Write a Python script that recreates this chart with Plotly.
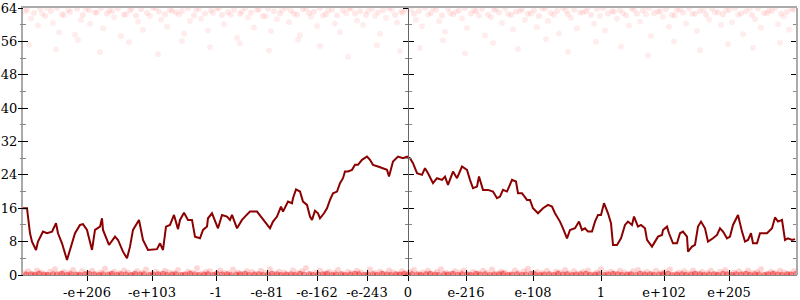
import plotly.graph_objects as go

# ---- data ----
tick_pos = [-321, -256, -192, -141, -91, -41, 0, 58, 125, 193, 256, 321]
tick_text = ["-e+206", "-e+103", "-1", "-e-81", "-e-162", "-e-243", "0",
             "e-216", "e-108", "1", "e+102", "e+205"]

line_x = [-385,-381,-378,-376,-372,-370,-365,-361,-356,-352,
          -350,-346,-341,-338,-333,-328,-325,-321,-316,-313,
          -308,-306,-305,-299,-293,-290,-285,-281,-278,-275,
          -271,-269,-265,-260,-251,-248,-245,-242,-238,-234,
          -230,-228,-224,-220,-216,-213,-208,-205,-201,-200,
          -196,-193,-190,-186,-181,-178,-176,-171,-166,-163,
          -158,-151,-146,-141,-138,-135,-131,-127,-125,-120,
          -116,-115,-112,-108,-105,-101,-98,-96,-93,-90,
          -88,-84,-81,-78,-75,-71,-68,-65,-63,-60,
          -56,-53,-50,-46,-41,-38,-35,-30,-25,-21,
          -19,-15,-10,-5,-1,2,5,9,14,17,
          20,25,29,34,37,40,45,49,54,59,
          62,65,69,71,75,80,85,89,92,95,
          99,104,108,110,114,119,122,125,130,135,
          140,144,147,152,155,159,162,167,171,174,
          177,180,184,187,190,193,196,200,203,205,
          209,213,217,220,224,226,230,233,237,239,
          244,247,250,254,255,259,261,265,269,272,
          275,279,280,284,287,290,293,297,300,305,
          309,312,315,319,322,325,330,334,337,340,
          343,345,349,352,359,364,367,370,374,377,
          380,384,387]
line_y = [16,16,10,8,6,8,10.4,10,10.4,12.4,
          10,7.6,3.6,6,10,12,12.2,10.8,6,10.8,
          11.6,13.6,10.8,7.2,9.2,8.4,5.6,4,6.8,10.8,
          12.4,13.2,8.4,6,6.2,7.6,6,11.6,12,14.4,
          11,13.2,14.9,13.2,13.2,9.2,8.8,10.8,11.6,13.6,
          14.8,13.2,11.2,14.4,14,13.2,14.4,11.2,13.2,14,
          15.2,15.2,13.6,12,11.2,12.8,14,16.4,15.2,17.6,
          17.2,18.4,20.5,20,17.6,16.8,14,13.2,15.4,14.8,
          13.6,14.8,16,18,19.6,20,22,23.2,24.8,24.8,
          25.2,26.4,26.4,27.6,28.4,27.6,26.4,26,25.6,25.2,
          23.6,27.2,28.4,28,28.4,28,26.8,24.4,24,25.6,
          24.4,22,23.2,22.8,23.6,21.6,24.8,23.2,26,25.2,
          22.8,20.8,21.2,23.6,20.4,20.4,20,18.4,18.8,20.4,
          20,22.8,22.4,19.6,19.6,18,18,16,14.8,16,
          16.8,16.4,14.8,12.8,11.2,8.8,10.8,11.2,12.8,10.8,
          11.2,10.4,10.4,12.8,14.4,14.4,17.2,14.8,12.4,7.2,
          7.2,8.8,12,12.8,12,14,11.6,12,11.2,8.4,
          6.8,8,9.2,9.6,10.8,11.6,10,7.6,7.6,10,
          10.4,9.2,5.6,6.8,7.2,11.6,12.8,11.2,8,8.8,
          9.6,11.2,10.4,8.8,9.2,12,14.4,10.4,8,8.4,
          10,7.6,7.6,10,10,11.2,13.8,12.8,13.2,8.4,
          8.8,8.4,8.6]

top_x = [-383,-377,-370,-366,-361,-355,-349,-344,-340,-333,-327,-322,-318,-311,-305,
         -299,-294,-287,-282,-276,-270,-265,-258,-252,-247,-241,-236,-229,-224,-218,
         -212,-207,-200,-195,-189,-184,-177,-171,-166,-160,-154,-149,-142,-137,-131,
         -126,-119,-114,-108,-102,-97,-91,-85,-80,-73,-68,-62,-57,-51,-45,
         -40,-33,-28,-22,-16,-11,-5,3,8,14,20,25,31,37,42,
         48,54,59,66,71,77,83,88,94,100,105,112,117,123,129,
         134,140,146,151,158,163,169,175,180,186,192,197,204,209,215,
         221,226,232,238,243,250,255,261,267,272,278,284,289,296,301,
         307,313,318,324,330,335,342,347,353,359,364,370,376,381,386,
         -379,-352,-330,-308,-279,-250,-226,-198,-168,-139,-110,-88,-60,-31,-8,
         12,35,57,85,110,138,160,188,213,240,266,292,320,345,372]
top_y = [63.2,61.5,59.8,62.7,64,60.4,58.1,62.2,63.5,57.6,61.1,63.8,60.2,62.9,59.1,
         63.4,61.8,57.2,62.5,63.9,60.7,58.8,62.1,64,61.2,59.5,63.3,62.4,57.9,60.9,
         63.6,61.4,58.6,62.8,64,60.1,62.3,56.8,63.1,61.7,59.3,63.7,62,58.4,61.3,
         63.5,60.6,62.6,57.5,63.9,61.9,59.7,62.2,63.4,60.3,58.2,62.7,63.8,61,59.9,
         63.3,62.1,57.8,61.6,63.6,60.5,62.9,63.7,61.2,59.6,62.4,64,60.8,58.3,62.8,
         63.1,61.5,59.2,63.5,62.2,57.4,61.8,63.9,60.4,62.6,58.9,63.2,61.1,62.7,59.4,
         63.8,60.9,62.3,57.9,63.4,61.6,59.1,62.9,64,60.2,62.1,58.6,63.3,61.4,62.8,
         59.8,63.6,60.7,62.5,57.3,63.1,61.9,59.5,62.2,63.7,60.3,62.6,58.5,63.5,61.2,
         62.9,59.9,63.4,60.6,62.4,57.7,63.8,61.3,59.3,62.7,63.2,60.1,62,58.8,63.6,
         55.2,54.1,56.3,53.4,55.8,52.9,56.1,54.6,55.5,53.8,56.4,54.9,52.3,55.1,53.7,
         54.4,56.2,53.1,55.6,54.2,56.5,53.5,55.9,54.7,52.6,56,53.9,55.3,54.5,55.7]

top2_x = [-381,-374,-368,-363,-357,-351,-346,-338,-331,-325,-319,-313,-307,-301,-296,
          -290,-284,-278,-272,-267,-261,-255,-249,-243,-238,-232,-226,-220,-214,-209,
          -203,-197,-191,-186,-180,-174,-168,-163,-157,-151,-145,-140,-134,-128,-122,
          -117,-111,-105,-99,-94,-88,-82,-76,-71,-65,-59,-53,-48,-42,-36,
          -30,-25,-19,-13,-7,-2,6,11,17,23,28,34,40,45,51,
          57,63,68,74,80,86,91,97,103,108,114,120,126,131,137,
          143,149,155,160,166,172,178,183,189,195,200,206,212,218,224,
          229,235,241,246,252,258,264,269,275,281,287,292,298,304,310,
          315,321,327,333,338,344,350,356,361,367,373,379,384]
top2_y = [63.6,62.8,63.9,62.1,63.3,64,62.5,63.1,63.8,62.3,63.5,62.9,64,62.6,63.2,
          63.9,62.4,63.4,62.2,63.7,62.8,64,63.1,62.5,63.6,62.9,63.3,64,62.2,63.8,
          62.7,63.4,63.9,62.3,63,63.6,62.6,64,62.9,63.5,62.1,63.8,63.2,62.7,64,
          63.3,62.4,63.7,62.8,63.1,64,62.5,63.6,62.2,63.4,63.9,62.7,63.2,62.4,63.8,
          62.9,63.5,64,62.3,63.1,63.7,62.6,63.3,64,62.8,63.6,62.2,63.9,62.5,63.4,
          64,62.7,63.2,63.8,62.4,63.5,62.9,64,62.3,63.1,63.7,62.6,63.4,62.1,63.9,
          62.8,63.3,64,62.5,63.6,62.9,63.2,62.4,63.8,64,62.7,63.1,63.5,62.2,63.9,
          62.6,63.4,64,62.8,63.2,63.7,62.3,63.5,62.9,64,62.6,63.3,62.4,63.8,63,
          62.5,63.6,64,62.7,63.2,62.3,63.9,62.8,63.4,64,62.6,63.1,63.7]

bot_x = [-384,-380,-375,-371,-367,-362,-358,-353,-348,-344,-339,-335,-330,-326,-321,
         -316,-312,-307,-303,-298,-294,-289,-284,-280,-275,-271,-266,-262,-257,-252,
         -248,-243,-239,-234,-230,-225,-220,-216,-211,-207,-202,-198,-193,-188,-184,
         -179,-175,-170,-166,-161,-156,-152,-147,-143,-138,-134,-129,-124,-120,-115,
         -111,-106,-102,-97,-92,-88,-83,-79,-74,-70,-65,-60,-56,-51,-47,
         -42,-38,-33,-28,-24,-19,-15,-10,-6,-2,2,6,11,15,20,
         24,29,33,38,43,47,52,56,61,65,70,75,79,84,88,
         93,97,102,107,111,116,120,125,129,134,139,143,148,152,157,
         161,166,171,175,180,184,189,193,198,203,207,212,216,221,225,
         230,235,239,244,248,253,257,262,267,271,276,280,285,289,294,
         299,303,308,312,317,321,326,331,335,340,344,349,353,358,363,
         367,372,376,381,386]
bot_y = [0.4,0.9,0.2,1.1,0.6,0.1,0.8,1.4,0.3,0.7,0.5,1.2,0.2,0.9,0.4,
         1.0,0.3,0.6,1.5,0.2,0.8,0.4,1.1,0.6,0.1,0.9,0.5,1.3,0.3,0.7,
         0.2,1.0,0.6,0.4,1.2,0.1,0.8,0.5,1.6,0.3,0.7,0.9,0.2,1.1,0.5,
         0.4,1.3,0.6,0.2,0.9,0.7,0.3,1.0,0.5,1.4,0.2,0.8,0.6,0.1,1.1,
         0.4,0.9,1.7,0.3,0.6,1.0,0.2,0.8,0.5,1.2,0.3,0.7,0.4,1.0,0.6,
         0.2,1.3,0.5,0.8,0.3,1.1,0.6,0.2,0.9,0.4,0.7,1.2,0.3,0.6,1.0,
         0.2,0.8,1.4,0.5,0.3,0.9,0.6,1.1,0.2,0.7,0.4,1.0,0.5,1.3,0.3,
         0.8,0.6,0.2,1.1,0.4,0.9,1.5,0.3,0.7,0.5,1.0,0.2,0.8,0.6,1.2,
         0.4,0.9,0.3,0.7,1.1,0.2,0.6,1.4,0.5,0.8,0.3,1.0,0.6,0.2,0.9,
         1.2,0.4,0.7,0.3,1.0,0.5,0.8,1.3,0.2,0.6,0.9,0.4,1.1,0.3,0.7,
         0.5,1.0,0.2,0.8,1.2,0.4,0.6,0.9,0.3,1.1,0.5,0.7,1.4,0.2,0.8,
         0.4,1.0,0.6,0.3,0.9]

bot2_x = [-382,-377,-373,-369,-364,-360,-355,-351,-346,-341,-337,-332,-328,-323,-319,
          -314,-309,-305,-300,-296,-291,-287,-282,-277,-273,-268,-264,-259,-255,-250,
          -245,-241,-236,-232,-227,-223,-218,-213,-209,-204,-200,-195,-191,-186,-181,
          -177,-172,-168,-163,-159,-154,-149,-145,-140,-136,-131,-127,-122,-117,-113,
          -108,-104,-99,-95,-90,-85,-81,-76,-72,-67,-63,-58,-53,-49,-44,
          -40,-35,-31,-26,-21,-17,-12,-8,-4,0,4,9,13,18,22,
          27,31,36,40,45,50,54,59,63,68,72,77,82,86,91,
          95,100,104,109,114,118,123,127,132,136,141,146,150,155,159,
          164,168,173,178,182,187,191,196,200,205,210,214,219,223,228,
          232,237,242,246,251,255,260,264,269,274,278,283,287,292,296,
          301,306,310,315,319,324,328,333,338,342,347,351,356,360,365,
          370,374,379,383,388]
bot2_y = [0.1,0.2,0,0.3,0.1,0,0.2,0.1,0.3,0,0.2,0.1,0,0.2,0.3,
          0.1,0,0.2,0.1,0.3,0,0.2,0.1,0,0.3,0.1,0.2,0,0.1,0.2,
          0.3,0,0.1,0.2,0,0.1,0.3,0.2,0,0.1,0.2,0,0.3,0.1,0.2,
          0,0.1,0.2,0.3,0,0.1,0.2,0,0.1,0.3,0.2,0,0.1,0.2,0,
          0.3,0.1,0.2,0,0.1,0.2,0.3,0,0.1,0.2,0,0.1,0.3,0.2,0,
          0.1,0.2,0,0.3,0.1,0,0.2,0.1,0.3,0,0.2,0.1,0,0.2,0.3,
          0.1,0,0.2,0.1,0.3,0,0.2,0.1,0,0.3,0.1,0.2,0,0.1,0.2,
          0.3,0,0.1,0.2,0,0.1,0.3,0.2,0,0.1,0.2,0,0.3,0.1,0.2,
          0,0.1,0.2,0.3,0,0.1,0.2,0,0.1,0.3,0.2,0,0.1,0.2,0,
          0.3,0.1,0.2,0,0.1,0.2,0.3,0,0.1,0.2,0,0.1,0.3,0.2,0,
          0.1,0.2,0,0.3,0.1,0,0.2,0.1,0.3,0,0.2,0.1,0,0.2,0.3,
          0.1,0,0.2,0.1,0.3]

# ---- figure ----
FONT = "DejaVu Serif"
zero_frac = 385 / 774

fig = go.Figure()
fig.add_trace(go.Scatter(x=bot2_x, y=bot2_y, mode="markers", hoverinfo="skip",
                         marker=dict(size=6, color="rgba(230,0,0,0.42)", line=dict(width=0))))
fig.add_trace(go.Scatter(x=bot_x, y=bot_y, mode="markers", hoverinfo="skip",
                         marker=dict(size=6, color="rgba(255,0,0,0.16)", line=dict(width=0))))
fig.add_trace(go.Scatter(x=top_x, y=top_y, mode="markers", hoverinfo="skip",
                         marker=dict(size=6, color="rgba(255,0,0,0.07)", line=dict(width=0))))
fig.add_trace(go.Scatter(x=top2_x, y=top2_y, mode="markers", hoverinfo="skip",
                         marker=dict(size=6, color="rgba(255,0,0,0.09)", line=dict(width=0))))
fig.add_trace(go.Scatter(x=line_x, y=line_y, mode="lines",
                         line=dict(color="#8b0000", width=2)))
# dummy traces to register overlay axes
for ya in ["y2", "y3", "y4", "y5"]:
    fig.add_trace(go.Scatter(x=[None], y=[None], yaxis=ya, showlegend=False))
for xa in ["x2", "x3"]:
    fig.add_trace(go.Scatter(x=[None], y=[None], xaxis=xa, showlegend=False))

yrange = [0, 64]
ytv = [0, 8, 16, 24, 32, 40, 48, 56, 64]
minor_out = dict(ticks="outside", ticklen=3, tickcolor="#888", dtick=4, tick0=0)
minor_in = dict(ticks="inside", ticklen=3, tickcolor="#888", dtick=4, tick0=0)
common_y = dict(range=yrange, tickvals=ytv, showgrid=False, zeroline=False,
                ticklen=5, tickcolor="black", tickwidth=1, fixedrange=True,
                automargin=False)
common_x = dict(range=[-385, 389], showgrid=False, zeroline=False, automargin=False)

fig.update_layout(
    width=800, height=300,
    margin=dict(l=23, r=3, t=8, b=25, autoexpand=False),
    plot_bgcolor="white", paper_bgcolor="white",
    showlegend=False,
    font=dict(family=FONT, size=13, color="black"),
    xaxis=dict(**common_x, tickvals=tick_pos, ticktext=tick_text,
               ticks="outside", ticklen=5, tickcolor="black",
               showline=True, linecolor="#888", linewidth=1,
               tickfont=dict(family=FONT, size=13, color="black")),
    xaxis2=dict(**common_x, overlaying="x", anchor="y", side="bottom",
                tickvals=tick_pos, ticks="inside", ticklen=5, tickcolor="black",
                showticklabels=False, showline=False),
    xaxis3=dict(**common_x, overlaying="x", anchor="y", side="top",
                showline=True, linecolor="#aaa", linewidth=2, ticks="",
                showticklabels=False),
    yaxis=dict(**common_y, ticks="inside", minor=minor_in,
               showline=True, linecolor="#aaa", linewidth=2,
               ticklabelstandoff=1,
               tickfont=dict(family=FONT, size=13, color="black")),
    yaxis2=dict(**common_y, overlaying="y", anchor="free", position=0, side="left",
                ticks="outside", minor=minor_out, showticklabels=False, showline=False),
    yaxis3=dict(**common_y, overlaying="y", anchor="free", position=zero_frac, side="left",
                ticks="outside", minor=minor_out, showticklabels=False,
                showline=True, linecolor="#666", linewidth=1),
    yaxis4=dict(**common_y, overlaying="y", anchor="free", position=zero_frac, side="left",
                ticks="inside", minor=minor_in, showticklabels=False, showline=False),
    yaxis5=dict(**common_y, overlaying="y", anchor="free", position=1, side="right",
                ticks="inside", minor=minor_in, showticklabels=False,
                showline=True, linecolor="#aaa", linewidth=2),
)

fig.write_html("out.html")
